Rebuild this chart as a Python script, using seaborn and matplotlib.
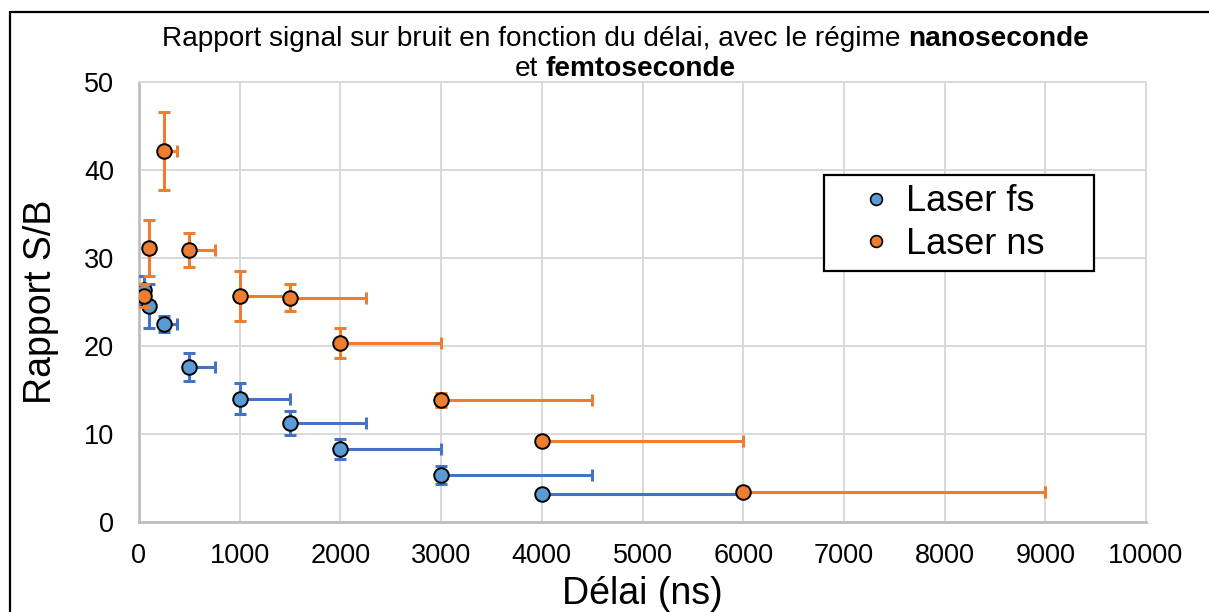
import matplotlib
matplotlib.use("Agg")
import matplotlib.pyplot as plt
from matplotlib.lines import Line2D
from matplotlib.patches import Rectangle
import pandas as pd
import seaborn as sns

# Laser femtoseconde
delai_fs = [50, 100, 250, 500, 1000, 1500, 2000, 3000, 4000]
snr_fs = [26.3, 24.5, 22.5, 17.6, 14.0, 11.2, 8.3, 5.3, 3.2]
err_snr_fs = [1.6, 2.5, 0.9, 1.6, 1.75, 1.35, 1.15, 1.0, 0.3]
err_delai_fs = [25, 50, 125, 250, 500, 750, 1000, 1500, 2000]

# Laser nanoseconde
delai_ns = [50, 100, 250, 500, 1000, 1500, 2000, 3000, 4000, 6000]
snr_ns = [25.7, 31.1, 42.1, 30.9, 25.65, 25.45, 20.35, 13.8, 9.2, 3.4]
err_snr_ns = [1.3, 3.2, 4.45, 1.95, 2.85, 1.55, 1.7, 0.8, 0.3, 0.3]
err_delai_ns = [25, 50, 125, 250, 500, 750, 1000, 1500, 2000, 3000]

series = ["Laser fs", "Laser ns"]
x_ticks = list(range(0, 10001, 1000))
y_ticks = list(range(0, 51, 10))

couleur_point = {"Laser fs": "#5B9BD5", "Laser ns": "#ED7D31"}
couleur_barre = {"Laser fs": "#4472C4", "Laser ns": "#ED7D31"}

df = pd.concat([
    pd.DataFrame({"Série": "Laser fs", "Délai": delai_fs, "SNR": snr_fs,
                  "err_snr": err_snr_fs, "err_delai": err_delai_fs}),
    pd.DataFrame({"Série": "Laser ns", "Délai": delai_ns, "SNR": snr_ns,
                  "err_snr": err_snr_ns, "err_delai": err_delai_ns}),
], ignore_index=True)

sns.set_theme(style="white")
plt.rcParams["font.family"] = ["Liberation Sans", "DejaVu Sans"]
plt.rcParams["text.color"] = "black"

W, H = 1209, 612
fig = plt.figure(figsize=(W / 100, H / 100), dpi=100)
ax = fig.add_axes([139 / W, (H - 521.7) / H, (1146 - 139) / W, (521.7 - 81.7) / H])

for i, serie in enumerate(series):
    d = df[df["Série"] == serie]
    ax.errorbar(d["Délai"], d["SNR"], yerr=d["err_snr"],
                xerr=[[0] * len(d), d["err_delai"]],
                fmt="none", ecolor=couleur_barre[serie], elinewidth=2.2,
                capsize=4.3, capthick=2.2, zorder=3 + 2 * i)
    sns.scatterplot(data=d, x="Délai", y="SNR", ax=ax, color=couleur_point[serie],
                    s=110, edgecolor="black", linewidth=1.4, legend=False,
                    zorder=4 + 2 * i)

ax.set_xlim(0, 10000)
ax.set_ylim(0, 50)
ax.set_xticks(x_ticks)
ax.set_yticks(y_ticks)
ax.tick_params(axis="both", length=0, labelsize=19.5, colors="black")
ax.tick_params(axis="x", pad=15)
ax.tick_params(axis="y", pad=18)
ax.grid(True, color="#D9D9D9", linewidth=1.4, zorder=0)
ax.set_axisbelow(True)
for cote in ["top", "right"]:
    ax.spines[cote].set_color("#D9D9D9")
    ax.spines[cote].set_linewidth(1.4)
for cote in ["left", "bottom"]:
    ax.spines[cote].set_color("#BFBFBF")
    ax.spines[cote].set_linewidth(2.0)

ax.set_xlabel("Délai (ns)", fontsize=27, color="black")
ax.set_ylabel("Rapport S/B", fontsize=27, color="black")
ax.xaxis.set_label_coords(0.5, -0.124)
ax.yaxis.set_label_coords(-0.079, 0.5)

# Légende : cadre noir opaque
ax.add_patch(Rectangle((824 / W, 1 - 271 / H), 270 / W, 96 / H, transform=fig.transFigure,
                       facecolor="white", edgecolor="black", linewidth=1.6,
                       zorder=9, clip_on=False))
poignees = [Line2D([], [], linestyle="none", marker="o", markersize=8.5,
                   markerfacecolor=couleur_point[s], markeredgecolor="black",
                   markeredgewidth=1.2) for s in series]
leg = ax.legend(poignees, series, loc="center", frameon=False, fontsize=26,
                bbox_to_anchor=(953 / W, 1 - 223 / H), bbox_transform=fig.transFigure,
                handlelength=0.8, handletextpad=0.45, labelspacing=0.2, borderpad=0.1,
                labelcolor="black")
leg.set_zorder(10)

# Titre sur deux lignes, avec mots en gras
renderer = fig.canvas.get_renderer()


def largeur(txt, poids, taille):
    t = fig.text(0, 0, txt, fontsize=taille, fontweight=poids)
    w = t.get_window_extent(renderer).width
    t.remove()
    return w


def ligne_mixte(morceaux, x_centre, y_base, taille):
    espace = largeur("a a", "normal", taille) - largeur("aa", "normal", taille)
    largeurs = [largeur(t, p, taille) for t, p in morceaux]
    total = sum(largeurs) + espace * (len(morceaux) - 1)
    x = x_centre - total / 2
    for (t, p), w in zip(morceaux, largeurs):
        fig.text(x / W, 1 - y_base / H, t, fontsize=taille, fontweight=p,
                 ha="left", va="baseline", color="black")
        x += w + espace


taille_titre = 20.2
ligne_mixte([("Rapport signal sur bruit en fonction du délai, avec le régime", "normal"),
             ("nanoseconde", "bold")], 625, 46, taille_titre)
ligne_mixte([("et", "normal"), ("femtoseconde", "bold")], 625, 76, taille_titre)

# Cadre du graphique
fig.add_artist(Line2D([10 / W, 10 / W], [0, 1 - 12 / H], transform=fig.transFigure,
                      color="black", linewidth=1.6))
fig.add_artist(Line2D([10 / W, 1], [1 - 12 / H, 1 - 12 / H], transform=fig.transFigure,
                      color="black", linewidth=1.6))

fig.savefig("out.png", dpi=100)
